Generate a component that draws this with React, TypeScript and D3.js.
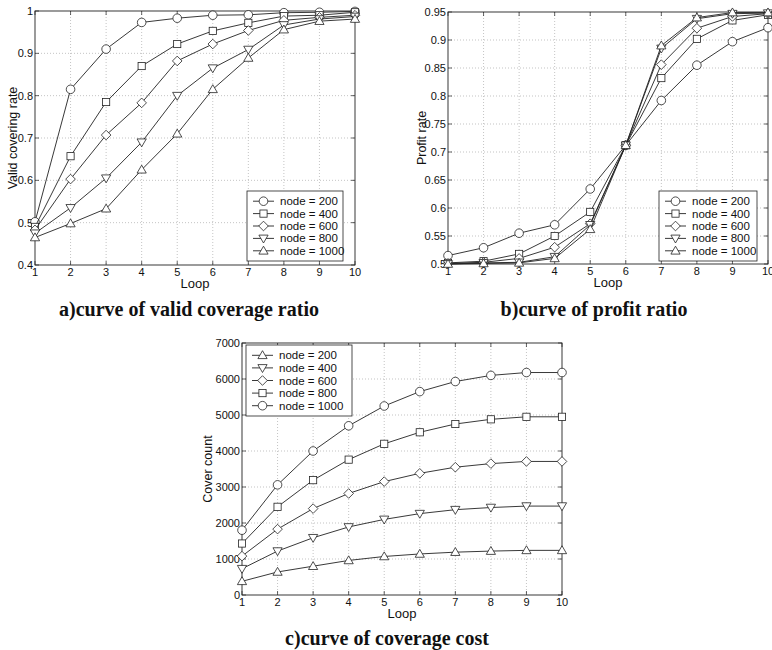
import React from "react";
import * as d3 from "d3";

// x axis: loop number
const loops = [1, 2, 3, 4, 5, 6, 7, 8, 9, 10];

// a) valid covering rate
const validNode200 = [0.502, 0.815, 0.91, 0.973, 0.983, 0.99, 0.991, 0.996, 0.997, 0.999];
const validNode400 = [0.49, 0.657, 0.785, 0.87, 0.922, 0.953, 0.972, 0.988, 0.99, 0.997];
const validNode600 = [0.483, 0.603, 0.707, 0.783, 0.882, 0.922, 0.954, 0.978, 0.985, 0.99];
const validNode800 = [0.475, 0.535, 0.605, 0.69, 0.8, 0.865, 0.909, 0.967, 0.981, 0.987];
const validNode1000 = [0.465, 0.498, 0.533, 0.625, 0.71, 0.815, 0.889, 0.956, 0.976, 0.981];
const validTicks = [0.4, 0.5, 0.6, 0.7, 0.8, 0.9, 1];

// b) profit rate
const profitNode200 = [0.515, 0.529, 0.555, 0.57, 0.634, 0.712, 0.792, 0.855, 0.897, 0.922];
const profitNode400 = [0.502, 0.505, 0.518, 0.55, 0.593, 0.712, 0.832, 0.902, 0.935, 0.945];
const profitNode600 = [0.501, 0.503, 0.51, 0.53, 0.572, 0.712, 0.856, 0.921, 0.942, 0.947];
const profitNode800 = [0.5, 0.502, 0.503, 0.513, 0.57, 0.712, 0.885, 0.938, 0.947, 0.948];
const profitNode1000 = [0.5, 0.501, 0.502, 0.51, 0.562, 0.712, 0.89, 0.94, 0.949, 0.949];
const profitTicks = [0.5, 0.55, 0.6, 0.65, 0.7, 0.75, 0.8, 0.85, 0.9, 0.95];

// c) cover count
const costNode200 = [380, 640, 800, 960, 1070, 1140, 1190, 1220, 1240, 1240];
const costNode400 = [730, 1220, 1590, 1890, 2100, 2260, 2370, 2430, 2470, 2470];
const costNode600 = [1080, 1830, 2400, 2820, 3150, 3380, 3550, 3650, 3710, 3710];
const costNode800 = [1430, 2450, 3190, 3760, 4200, 4520, 4750, 4880, 4950, 4950];
const costNode1000 = [1800, 3060, 4000, 4700, 5250, 5650, 5930, 6100, 6180, 6180];
const costTicks = [0, 1000, 2000, 3000, 4000, 5000, 6000, 7000];

const nodeLabels = ["node = 200", "node = 400", "node = 600", "node = 800", "node = 1000"];

type Shape = "circle" | "square" | "diamond" | "down" | "up";

const sans = "'Liberation Sans', Arial, sans-serif";
const serif = "'Liberation Serif', 'Times New Roman', serif";
const ink = "#222";

function Marker({ shape, x, y }: { shape: Shape; x: number; y: number }) {
  const common = { fill: "#fff", stroke: ink, strokeWidth: 0.8 };
  if (shape === "circle") return <circle cx={x} cy={y} r={4.3} {...common} />;
  if (shape === "square") return <rect x={x - 3.6} y={y - 3.6} width={7.2} height={7.2} {...common} />;
  let pts: number[][];
  if (shape === "diamond") pts = [[0, -4.8], [4.8, 0], [0, 4.8], [-4.8, 0]];
  else if (shape === "up") pts = [[0, -4.6], [4.6, 3.3], [-4.6, 3.3]];
  else pts = [[0, 4.6], [4.6, -3.3], [-4.6, -3.3]];
  return <polygon points={pts.map((p) => `${x + p[0]},${y + p[1]}`).join(" ")} {...common} />;
}

type Series = { values: number[]; shape: Shape; label: string };

type PanelCfg = {
  left: number; right: number; top: number; bottom: number;
  yDomain: [number, number]; yTicks: number[];
  series: Series[];
  legend: { x: number; y: number; w: number; h: number };
  yLabel: string; yLabelX: number;
  title: string; titleX: number; titleY: number;
};

function Panel({ cfg }: { cfg: PanelCfg }) {
  const x = d3.scaleLinear().domain([1, 10]).range([cfg.left, cfg.right]);
  const y = d3.scaleLinear().domain(cfg.yDomain).range([cfg.bottom, cfg.top]);
  const line = d3.line<number>().x((_, i) => x(loops[i])).y((d) => y(d));
  const midY = (cfg.top + cfg.bottom) / 2;
  const midX = (cfg.left + cfg.right) / 2;
  const lg = cfg.legend;
  const rowH = (lg.h - 8) / cfg.series.length;
  return (
    <g>
      {/* grid */}
      {loops.slice(1, -1).map((l) => (
        <line key={"gx" + l} x1={x(l)} x2={x(l)} y1={cfg.top} y2={cfg.bottom}
          stroke="#aaa" strokeWidth={0.7} strokeDasharray="1,2" />
      ))}
      {cfg.yTicks.slice(1, -1).map((t) => (
        <line key={"gy" + t} x1={cfg.left} x2={cfg.right} y1={y(t)} y2={y(t)}
          stroke="#aaa" strokeWidth={0.7} strokeDasharray="1,2" />
      ))}
      {/* ticks */}
      {loops.map((l) => (
        <g key={"tx" + l}>
          <line x1={x(l)} x2={x(l)} y1={cfg.bottom} y2={cfg.bottom - 4} stroke={ink} strokeWidth={0.7} />
          <line x1={x(l)} x2={x(l)} y1={cfg.top} y2={cfg.top + 4} stroke={ink} strokeWidth={0.7} />
          <text x={x(l)} y={cfg.bottom + 11} textAnchor="middle" fontFamily={sans} fontSize={11} fill="#111">{l}</text>
        </g>
      ))}
      {cfg.yTicks.map((t) => (
        <g key={"ty" + t}>
          <line x1={cfg.left} x2={cfg.left + 4} y1={y(t)} y2={y(t)} stroke={ink} strokeWidth={0.7} />
          <line x1={cfg.right} x2={cfg.right - 4} y1={y(t)} y2={y(t)} stroke={ink} strokeWidth={0.7} />
          <text x={cfg.left - 2} y={y(t) + 4} textAnchor="end" fontFamily={sans} fontSize={11} fill="#111">{t}</text>
        </g>
      ))}
      <rect x={cfg.left} y={cfg.top} width={cfg.right - cfg.left} height={cfg.bottom - cfg.top}
        fill="none" stroke={ink} strokeWidth={0.9} />
      {/* series */}
      {cfg.series.map((s, si) => (
        <g key={"s" + si}>
          <path d={line(s.values) || ""} fill="none" stroke={ink} strokeWidth={0.9} />
          {s.values.map((v, i) => <Marker key={i} shape={s.shape} x={x(loops[i])} y={y(v)} />)}
        </g>
      ))}
      {/* legend */}
      <rect x={lg.x} y={lg.y} width={lg.w} height={lg.h} fill="#fff" stroke={ink} strokeWidth={0.8} />
      {cfg.series.map((s, si) => {
        const cy = lg.y + 4 + rowH * (si + 0.5);
        return (
          <g key={"l" + si}>
            <line x1={lg.x + 6} x2={lg.x + 27} y1={cy} y2={cy} stroke={ink} strokeWidth={0.9} />
            <Marker shape={s.shape} x={lg.x + 16.5} y={cy} />
            <text x={lg.x + 33} y={cy + 4} fontFamily={sans} fontSize={11.5} fill="#111">{s.label}</text>
          </g>
        );
      })}
      {/* labels */}
      <text x={midX} y={cfg.bottom + 23} textAnchor="middle" fontFamily={sans} fontSize={13} fill="#111">Loop</text>
      <text transform={`translate(${cfg.yLabelX},${midY}) rotate(-90)`} textAnchor="middle"
        fontFamily={sans} fontSize={12.5} fill="#111">{cfg.yLabel}</text>
      <text x={cfg.titleX} y={cfg.titleY} textAnchor="middle" fontFamily={serif} fontWeight="bold"
        fontSize={20} fill="#111">{cfg.title}</text>
    </g>
  );
}

export default function App() {
  const abShapes: Shape[] = ["circle", "square", "diamond", "down", "up"];
  const cShapes: Shape[] = ["up", "down", "diamond", "square", "circle"];
  const mk = (vals: number[][], shapes: Shape[]): Series[] =>
    vals.map((v, i) => ({ values: v, shape: shapes[i], label: nodeLabels[i] }));

  const panels: PanelCfg[] = [
    {
      left: 35, right: 355, top: 11, bottom: 265,
      yDomain: [0.4, 1], yTicks: validTicks,
      series: mk([validNode200, validNode400, validNode600, validNode800, validNode1000], abShapes),
      legend: { x: 247, y: 191, w: 96, h: 70 },
      yLabel: "Valid covering rate", yLabelX: 17,
      title: "a)curve of valid coverage ratio", titleX: 189, titleY: 316,
    },
    {
      left: 448, right: 768, top: 12, bottom: 264,
      yDomain: [0.5, 0.95], yTicks: profitTicks,
      series: mk([profitNode200, profitNode400, profitNode600, profitNode800, profitNode1000], abShapes),
      legend: { x: 659, y: 191, w: 98, h: 70 },
      yLabel: "Profit rate", yLabelX: 426,
      title: "b)curve of profit ratio", titleX: 594, titleY: 316,
    },
    {
      left: 242, right: 562, top: 343, bottom: 595,
      yDomain: [0, 7000], yTicks: costTicks,
      series: mk([costNode200, costNode400, costNode600, costNode800, costNode1000], cShapes),
      legend: { x: 246, y: 345, w: 106, h: 71 },
      yLabel: "Cover count", yLabelX: 212,
      title: "c)curve of coverage cost", titleX: 387, titleY: 645,
    },
  ];

  return (
    <svg width={772} height={650} style={{ position: "absolute", left: 0, top: 0, background: "#fff" }}>
      <rect width={772} height={650} fill="#fff" />
      {panels.map((p, i) => <Panel key={i} cfg={p} />)}
    </svg>
  );
}
